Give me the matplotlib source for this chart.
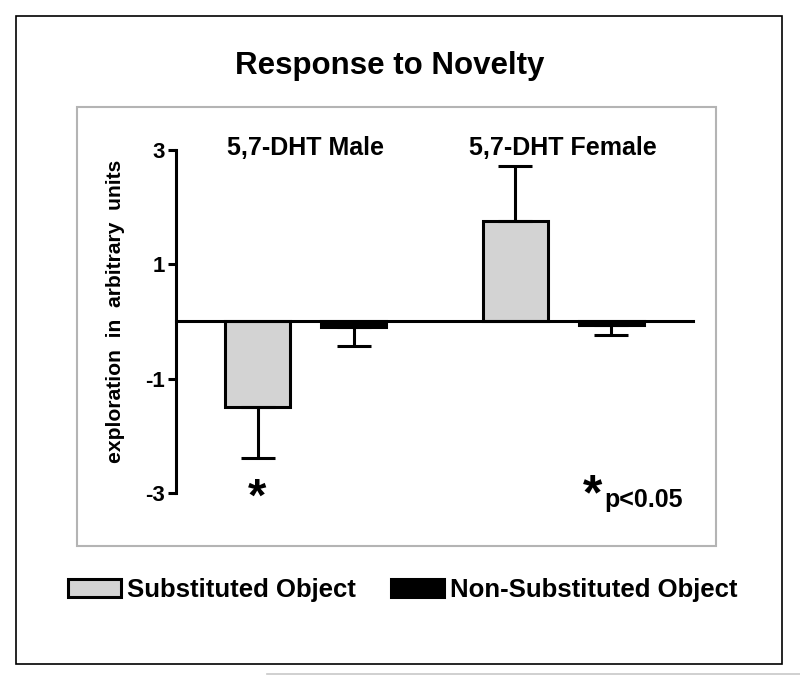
import numpy as np
import matplotlib
matplotlib.use("Agg")
import matplotlib.pyplot as plt
from matplotlib.patches import Rectangle
from matplotlib.lines import Line2D

plt.rcParams['font.family'] = ['Liberation Sans', 'DejaVu Sans']
plt.rcParams['font.weight'] = 'bold'

# data
groups = ['5,7-DHT Male', '5,7-DHT Female']
series = ['Substituted Object', 'Non-Substituted Object']
substituted = [-1.49, 1.76]
substituted_err = [0.90, 0.96]
non_substituted = [-0.09, -0.06]
non_substituted_err = [0.34, 0.18]
yticks = [3, 1, -1, -3]

fig = plt.figure(figsize=(8, 6.82), dpi=100)

# outer black frame and inner grey frame
fig.patches.append(Rectangle((0.02, 0.0264), 0.9575, 0.950, transform=fig.transFigure,
                             fill=False, edgecolor='black', linewidth=1.2))
fig.patches.append(Rectangle((0.0962, 0.1994), 0.7988, 0.6437, transform=fig.transFigure,
                             fill=False, edgecolor='#b4b4b4', linewidth=1.5))
fig.lines.append(Line2D([0.334, 1.0], [0.0117, 0.0117], transform=fig.transFigure,
                        color='#c8c8c8', linewidth=1.2))

ax = fig.add_axes([0.22, 0.2771, 0.646, 0.503])

x = np.arange(len(groups))
off = 0.1864
w = 0.2524
bw = 2.2

def one_sided(vals, errs):
    lo = [e if v < 0 else 0 for v, e in zip(vals, errs)]
    hi = [e if v >= 0 else 0 for v, e in zip(vals, errs)]
    return [lo, hi]

b1 = ax.bar(x - off, substituted, w, color='#d3d3d3', edgecolor='black', linewidth=bw,
            yerr=one_sided(substituted, substituted_err),
            error_kw=dict(ecolor='black', elinewidth=bw, capsize=12, capthick=bw),
            label=series[0], zorder=3)
b2 = ax.bar(x + off, non_substituted, w, color='black', edgecolor='black', linewidth=bw,
            yerr=one_sided(non_substituted, non_substituted_err),
            error_kw=dict(ecolor='black', elinewidth=bw, capsize=12, capthick=bw),
            label=series[1], zorder=3)

ax.set_xlim(-0.503, 1.504)
ax.set_ylim(-3, 3)
ax.set_yticks(yticks)
ax.set_yticklabels([str(t) for t in yticks], fontsize=16, fontweight='bold')
ax.tick_params(axis='y', direction='out', length=6, width=bw, pad=2)
ax.tick_params(axis='x', length=0, labelbottom=False)
ax.spines['top'].set_visible(False)
ax.spines['right'].set_visible(False)
ax.spines['left'].set_linewidth(bw)
ax.spines['bottom'].set_position(('data', 0))
ax.spines['bottom'].set_linewidth(bw)
ax.spines['bottom'].set_zorder(4)
ax.patch.set_visible(False)

ax.set_ylabel('exploration  in  arbitrary  units', fontsize=15.2, fontweight='bold')
ax.yaxis.set_label_coords(-0.098, 0.53)

for xi, g in zip(x, groups):
    ax.text(xi, 3.03, g, ha='center', va='center', fontsize=18, fontweight='bold')

# significance markers
ax.text(x[0] - off, -3.1, '*', ha='center', va='center', fontsize=34, fontweight='bold')
ax.text(1.115, -3.05, '*', ha='center', va='center', fontsize=36, fontweight='bold')
ax.text(1.16, -3.12, 'p<0.05', ha='left', va='center', fontsize=18, fontweight='bold')

fig.text(0.4875, 0.903, 'Response to Novelty', ha='center', va='center',
         fontsize=22.5, fontweight='bold')

fig.legend(handles=[b1, b2], labels=series, loc='center left',
           bbox_to_anchor=(0.0846, 1 - 590 / 682), ncol=2, frameon=False,
           fontsize=18.5, handlelength=2.06, handleheight=0.72, handletextpad=0.25,
           columnspacing=1.35, borderaxespad=0, borderpad=0)

fig.savefig('out.png', dpi=100)
